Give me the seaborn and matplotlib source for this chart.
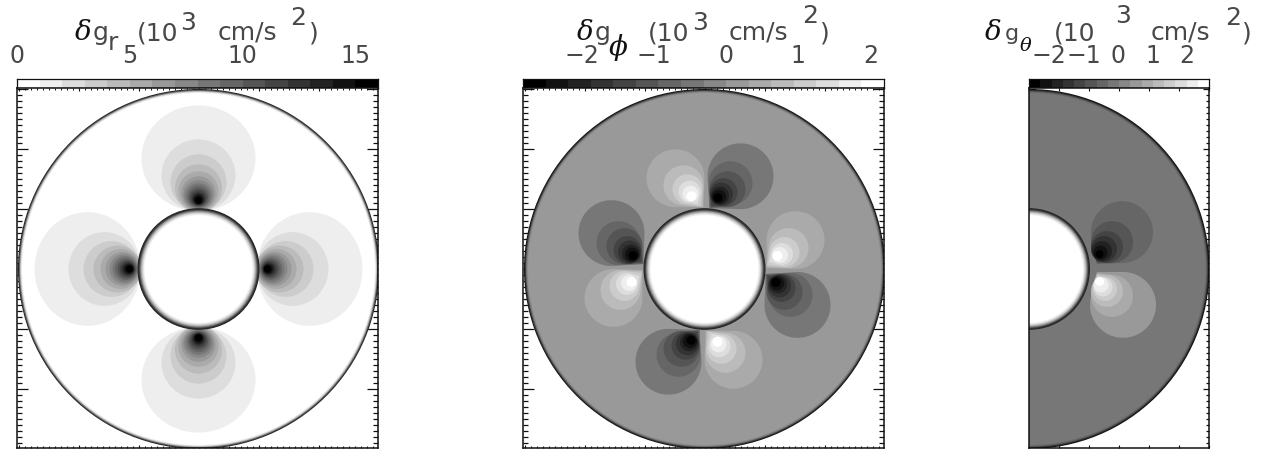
import numpy as np
import matplotlib
matplotlib.use("Agg")
import matplotlib.pyplot as plt
from matplotlib.colors import ListedColormap
from matplotlib.patches import Circle, Ellipse
from matplotlib.ticker import MultipleLocator
import seaborn as sns

W, H = 1268, 452
INK = "#484848"

# ---- colour scale: 16 grey bins, one list per panel ----
bins_up = [15, 14, 13, 12, 11, 10, 9, 8, 7, 6, 5, 4, 3, 2, 1, 0]     # white -> black
bins_down = [0, 1, 2, 3, 4, 5, 6, 7, 8, 9, 10, 11, 12, 13, 14, 15]   # black -> white

# ---- colour bar ranges and tick labels ----
r_range = (0.0, 16.0)
r_ticks = [0, 5, 10, 15]
r_labels = ["0", "5", "10", "15"]
phi_range = (-2.82, 2.19)
phi_ticks = [-2, -1, 0, 1, 2]
phi_labels = ["\u22122", "\u22121", "0", "1", "2"]
theta_range = (-2.58, 2.64)
theta_ticks = [-2, -1, 0, 1, 2]
theta_labels = ["\u22122", "\u22121", "0", "1", "2"]

# ---- shell radii (axis units) ----
R_IN = 60.5
LIM = 180.5

# ---- delta g_r : nested contours on each of four lobes ----
r_center = [111, 94, 87, 81, 78, 76, 74.5, 73.5, 72.5, 72, 71, 70.5, 70, 69.5, 69]
r_radial = [53, 36, 28, 24, 20, 17, 14.5, 12.5, 11, 9, 8, 6.5, 5.5, 4.5, 3.5]
r_tangent = [57, 37, 28, 23.5, 20, 17, 15, 13, 11, 9.5, 8, 6.5, 5.5, 4.5, 3.5]
r_grey = [14, 13, 12, 11, 10, 9, 8, 7, 6, 5, 4, 3, 2, 1, 0]

# ---- delta g_phi : background bin, dark lobe and light lobe contours ----
phi_bg = 9
phi_dark_x = [36, 26, 23, 19, 17, 15.5, 14.5, 13.5]
phi_dark_y = [93, 86, 80, 77, 75, 73.5, 72.5, 71.5]
phi_dark_s = [33, 22, 18, 14, 11.5, 9, 7, 4.5]
phi_dark_bin = [7, 6, 5, 4, 3, 2, 1, 0]
phi_dark_fx = [5, 5, 6, 7, 9, 13, 13, 13]
phi_dark_fy = [61, 61, 62, 63, 65, 71, 71, 71]
phi_light_x = [-29, -21, -17, -15, -14, -13]
phi_light_y = [91, 84, 80, 77.5, 75.5, 73]
phi_light_s = [29, 20, 15, 11, 8, 5]
phi_light_bin = [10, 11, 12, 13, 14, 15]
phi_light_fx = [-1, -2, -4, -7, -13, -13]
phi_light_fy = [62, 62, 63, 65, 73, 73]

# ---- delta g_theta : background bin, upper and lower lobe contours ----
theta_bg = 7
theta_dark_x = [93, 83, 78, 75, 73, 71.5, 70.5]
theta_dark_y = [37, 27, 22, 20, 18, 16.5, 15]
theta_dark_s = [31, 21, 16, 13, 10, 7, 4]
theta_dark_bin = [6, 5, 4, 3, 2, 1, 0]
theta_dark_fx = [68, 68, 68, 69, 70, 70, 70]
theta_dark_fy = [5, 6, 7, 8, 15, 15, 15]
theta_light_x = [94, 83, 78, 76, 74, 72, 70.5]
theta_light_y = [-36, -27, -22, -20, -18, -16, -12.5]
theta_light_s = [33, 21, 16, 12, 9.5, 7.5, 4.5]
theta_light_bin = [9, 10, 11, 12, 13, 14, 15]
theta_light_fx = [68, 68, 68, 69, 70, 70, 70]
theta_light_fy = [-3, -4, -5, -6, -12, -12, -12]

# ---- shell edge shading: radius, share of black ----
outer_edge_r = [180.5, 179.5, 178.5, 177.5]
outer_edge_k = [0.85, 0.6, 0.25, 0.08]
inner_edge_r = [61, 60, 59, 58, 57, 56, 55, 54]
inner_edge_k = [0.85, 0.8, 0.6, 0.4, 0.25, 0.13, 0.06, 0.0]

# ---- title pieces: text, x px, baseline y px, size pt ----
SANS, SERIF = "DejaVu Sans", "DejaVu Serif"
title_text = ["\u03b4", "g", "r", "(10", "3", "cm/s", "2", ")",
              "\u03b4", "g", "\u03d5", "(10", "3", "cm/s", "2", ")",
              "\u03b4", "g", "\u03b8", "(10", "3", "cm/s", "2", ")"]
title_x = [75, 93, 108, 137, 180, 218, 290, 309,
           577, 595, 609, 648, 692, 729, 802, 820,
           985, 1005, 1020, 1054, 1115, 1151, 1225, 1242]
title_y = [40, 40, 50, 40, 30, 40, 25, 40,
           40, 40, 55, 40, 30, 40, 23, 40,
           40, 40, 51, 40, 23, 40, 25, 40]
title_size = [20, 18, 18, 18, 18, 18, 18, 18,
              20, 18, 20, 18, 18, 18, 18, 18,
              20, 16, 14, 18, 18, 18, 18, 18]
greek = {"\u03b4", "\u03d5", "\u03b8"}


def box(x0, x1, y0, y1):
    return [x0 / W, 1 - y1 / H, (x1 - x0) / W, (y1 - y0) / H]


def grey_of(b):
    return str(b / 15)


def hull(points):
    pts = sorted(map(tuple, points))
    def half(seq):
        out = []
        for p in seq:
            while len(out) > 1 and ((out[-1][0] - out[-2][0]) * (p[1] - out[-2][1])
                                    - (out[-1][1] - out[-2][1]) * (p[0] - out[-2][0])) <= 0:
                out.pop()
            out.append(p)
        return out[:-1]
    return np.array(half(pts) + half(pts[::-1]))


def draw_lobe(ax, xs, ys, ss, fxs, fys, bb, turn=(1, 0)):
    ang = np.linspace(0, 2 * np.pi, 120, endpoint=False)
    for x, y, s, fx, fy, g in zip(xs, ys, ss, fxs, fys, bb):
        px = np.r_[x + s * np.cos(ang), fx]
        py = np.r_[y + s * np.sin(ang), fy]
        rx = px * turn[0] - py * turn[1]
        ry = px * turn[1] + py * turn[0]
        outline = hull(np.c_[rx, ry])
        ax.fill(outline[:, 0], outline[:, 1], fc=grey_of(g), ec="none", zorder=2)


def draw_bar(fig, rect, bins, rng, ticks, labels):
    ax = fig.add_axes(rect)
    table = np.array(bins, dtype=float).reshape(1, -1)
    cmap = ListedColormap([grey_of(i) for i in range(16)])
    sns.heatmap(table, ax=ax, cmap=cmap, vmin=-0.5, vmax=15.5, cbar=False,
                xticklabels=False, yticklabels=False, linewidths=0)
    n = len(bins)
    to_idx = lambda v: (v - rng[0]) / (rng[1] - rng[0]) * n
    ax.set_xticks([to_idx(v) for v in ticks])
    ax.set_xticklabels(labels, rotation=0, fontsize=17, color=INK, family=SANS)
    ax.tick_params(axis="x", which="major", top=True, bottom=True, labeltop=True,
                   labelbottom=False, direction="in", length=2.2, width=0.6,
                   color="#222222", pad=8.5)
    ax.xaxis.set_minor_locator(MultipleLocator(n / (rng[1] - rng[0]) * 0.25))
    ax.tick_params(axis="x", which="minor", top=True, bottom=True, direction="in",
                   length=1.1, width=0.5, color="#222222")
    for s in ax.spines.values():
        s.set_visible(True)
        s.set_linewidth(0.9)
        s.set_color("#111111")
    return ax


def draw_field(fig, rect, xlim, bg, xmajor, xminor, ymaj_len, ymin_len):
    ax = fig.add_axes(rect)
    ax.set_xlim(*xlim)
    ax.set_ylim(-LIM + 1, LIM + 1)
    ax.set_facecolor("white")
    base = float(bg)
    for rr, kk in zip(outer_edge_r, outer_edge_k):
        ax.add_patch(Circle((0, 0), rr, fc=str(base * (1 - kk)), ec="none", zorder=1))
    ax.add_patch(Circle((0, 0), outer_edge_r[-1] - 1, fc=bg, ec="none", zorder=1))
    for rr, kk in zip(inner_edge_r, inner_edge_k):
        ax.add_patch(Circle((0, 0), rr, fc=str(1 - kk), ec="none", zorder=4))
    ax.xaxis.set_major_locator(MultipleLocator(xmajor))
    ax.yaxis.set_major_locator(MultipleLocator(60))
    if xminor:
        ax.xaxis.set_minor_locator(MultipleLocator(xminor))
    ax.yaxis.set_minor_locator(MultipleLocator(6))
    ax.tick_params(axis="x", which="major", top=True, bottom=True, direction="in",
                   length=2.2, width=0.8, color="#111111", labelbottom=False)
    ax.tick_params(axis="x", which="minor", top=True, bottom=True, direction="in",
                   length=1.1, width=0.7, color="#111111")
    ax.tick_params(axis="y", which="major", left=True, right=True, direction="in",
                   length=ymaj_len, width=0.9, color="#111111", labelleft=False)
    ax.tick_params(axis="y", which="minor", left=True, right=True, direction="in",
                   length=ymin_len, width=0.9, color="#111111")
    for s in ax.spines.values():
        s.set_visible(True)
        s.set_linewidth(1.1)
        s.set_color("#111111")
        s.set_zorder(8)
    return ax


sns.set_theme(style="white")
plt.rcParams["font.family"] = [SANS]
fig = plt.figure(figsize=(W / 100, H / 100), dpi=100, facecolor="white")

# --- panel 1 ---
draw_bar(fig, box(17, 378, 79.5, 88.5), bins_up, r_range, r_ticks, r_labels)
ax1 = draw_field(fig, box(17, 378, 89, 449), (-LIM - 1, LIM - 1), "1.0", 60, 6, 8.2, 3.8)
for rot in (0, 90, 180, 270):
    th = np.deg2rad(rot)
    for c, a, b, g in zip(r_center, r_radial, r_tangent, r_grey):
        ax1.add_patch(Ellipse((-c * np.sin(th), c * np.cos(th)), 2 * b, 2 * a, angle=rot,
                              fc=grey_of(g), ec="none", zorder=2))

# --- panel 2 ---
draw_bar(fig, box(523, 884, 79.5, 88.5), bins_down, phi_range, phi_ticks, phi_labels)
ax2 = draw_field(fig, box(523, 884, 89, 449), (-LIM - 1, LIM - 1), grey_of(phi_bg), 60, 6, 8.2, 3.8)
for turn in ((1, 0), (0, 1), (-1, 0), (0, -1)):
    draw_lobe(ax2, phi_dark_x, phi_dark_y, phi_dark_s, phi_dark_fx, phi_dark_fy, phi_dark_bin, turn)
    draw_lobe(ax2, phi_light_x, phi_light_y, phi_light_s, phi_light_fx, phi_light_fy, phi_light_bin, turn)

# --- panel 3 ---
draw_bar(fig, box(1029, 1209, 79.5, 88.5), bins_down, theta_range, theta_ticks, theta_labels)
ax3 = draw_field(fig, box(1029, 1209, 89, 449), (0, 180), grey_of(theta_bg), 30, None, 4.4, 2.4)
draw_lobe(ax3, theta_dark_x, theta_dark_y, theta_dark_s, theta_dark_fx, theta_dark_fy, theta_dark_bin)
draw_lobe(ax3, theta_light_x, theta_light_y, theta_light_s, theta_light_fx, theta_light_fy, theta_light_bin)

# --- titles ---
for t, x, y, sz in zip(title_text, title_x, title_y, title_size):
    is_greek = t in greek
    fig.text(x / W, 1 - y / H, t, fontsize=sz, va="baseline", ha="left",
             color="#111111" if is_greek else INK,
             family=SERIF if is_greek else SANS,
             style="italic" if is_greek else "normal")

fig.savefig("out.png", dpi=100, facecolor="white")
